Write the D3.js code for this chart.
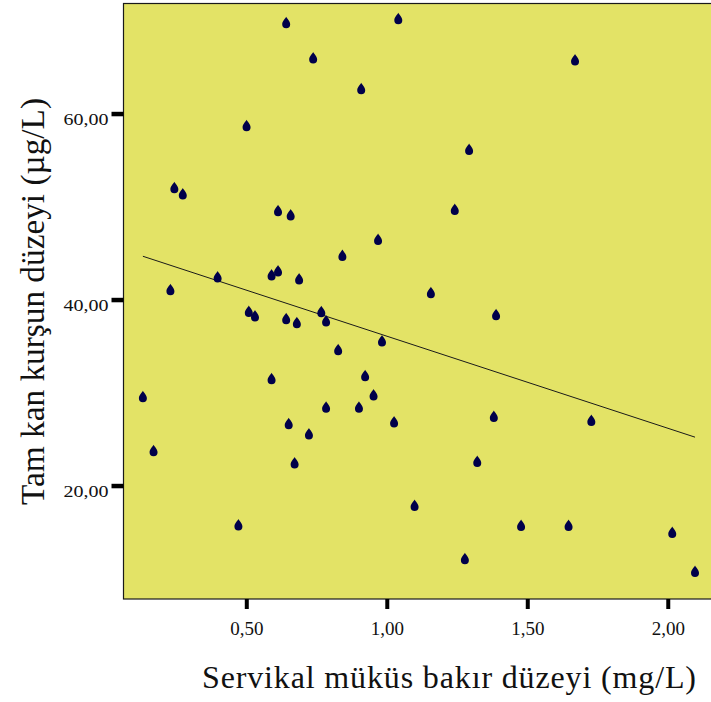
<!DOCTYPE html>
<html>
<head>
<meta charset="utf-8">
<script src="https://cdn.jsdelivr.net/npm/d3@7/dist/d3.min.js"></script>
<style>
  html, body { margin: 0; padding: 0; background: #ffffff; }
  svg { display: block; }
  text { font-family: "Liberation Serif", "Times New Roman", serif; fill: #111; }
</style>
</head>
<body>
<svg id="chart" width="711" height="702"></svg>
<script>
// Cervical mucus copper (mg/L) vs whole-blood lead (µg/L), one entry per subject
const copper = [
  0.642, 1.041, 0.738, 0.909, 0.501, 0.244, 0.274, 0.613, 0.658, 0.969,
  1.670, 1.293, 1.242, 0.842, 0.230, 0.398, 0.590, 0.613, 0.688, 0.509,
  0.531, 0.642, 0.680, 0.767, 0.784, 0.983, 0.827, 0.590, 0.923, 0.953,
  0.132, 0.784, 0.901, 0.651, 0.723, 1.026, 0.170, 0.672, 1.099, 0.472,
  1.381, 1.728, 1.322, 1.478, 1.647, 1.278, 2.016, 2.097, 1.157, 1.389
];
const lead = [
  69.60, 70.03, 65.81, 62.51, 58.53, 51.86, 51.18, 49.39, 48.92, 46.30,
  65.59, 55.98, 49.53, 44.58, 40.89, 42.26, 42.47, 42.90, 42.04, 38.56,
  38.06, 37.77, 37.34, 38.53, 37.53, 35.38, 34.44, 31.32, 31.65, 29.57,
  29.39, 28.26, 28.26, 26.48, 25.38, 26.67, 23.58, 22.26, 17.70, 15.59,
  27.27, 26.84, 22.43, 15.55, 15.55, 11.97, 14.80, 10.60, 40.57, 38.20
];

const xTicks = [0.5, 1.0, 1.5, 2.0];
const xTickLabels = ["0,50", "1,00", "1,50", "2,00"];
const yTicks = [20, 40, 60];
const yTickLabels = ["20,00", "40,00", "60,00"];

const xTitle = "Servikal müküs bakır düzeyi (mg/L)";
const yTitle = "Tam kan kurşun düzeyi (µg/L)";

const points = copper.map((c, i) => ({ x: c, y: lead[i] }));

const svg = d3.select("#chart");
const plot = { left: 123.5, top: 3.5, right: 713, bottom: 599 };

const x = d3.scaleLinear().domain([0.063, 2.161]).range([plot.left, plot.right]);
const y = d3.scaleLinear().domain([7.8, 71.8]).range([plot.bottom, 3.8]);

// Plot background
svg.append("rect")
  .attr("x", plot.left).attr("y", plot.top)
  .attr("width", plot.right - plot.left).attr("height", plot.bottom - plot.top)
  .attr("fill", "#E3E366")
  .attr("stroke", "#1a1a1a").attr("stroke-width", 1.2);

// X axis: heavy ticks below the frame
const xAxis = d3.axisBottom(x)
  .tickValues(xTicks)
  .tickFormat((d, i) => xTickLabels[i])
  .tickSize(10).tickPadding(0);
const gx = svg.append("g").attr("transform", `translate(0,${plot.bottom})`).call(xAxis);
gx.select(".domain").remove();
gx.selectAll(".tick line").attr("stroke", "#000").attr("stroke-width", 4);
gx.selectAll(".tick text")
  .attr("y", 36).attr("dy", null)
  .style("font-size", "19px").attr("fill", "#111")
  .style("font-family", "'Liberation Serif', serif");

// Y axis: heavy ticks left of the frame
const yAxis = d3.axisLeft(y)
  .tickValues(yTicks)
  .tickFormat((d, i) => yTickLabels[i])
  .tickSize(12).tickPadding(3);
const gy = svg.append("g").attr("transform", `translate(${plot.left},0)`).call(yAxis);
gy.select(".domain").remove();
gy.selectAll(".tick line").attr("stroke", "#000").attr("stroke-width", 4.5);
gy.selectAll(".tick text")
  .attr("dy", "11px")
  .attr("textLength", 45).attr("lengthAdjust", "spacingAndGlyphs")
  .style("font-size", "17px").attr("fill", "#111")
  .style("font-family", "'Liberation Serif', serif");

// Least-squares fit line across the observed copper range
const mx = d3.mean(points, d => d.x), my = d3.mean(points, d => d.y);
const sxy = d3.sum(points, d => (d.x - mx) * (d.y - my));
const sxx = d3.sum(points, d => (d.x - mx) ** 2);
const slope = sxy / sxx, intercept = my - slope * mx;
const [xmin, xmax] = d3.extent(points, d => d.x);
svg.append("line")
  .attr("x1", x(xmin)).attr("y1", y(intercept + slope * xmin))
  .attr("x2", x(xmax)).attr("y2", y(intercept + slope * xmax))
  .attr("stroke", "#1a1a1a").attr("stroke-width", 1);

// Teardrop markers, circle part centred on the value
const drop = "M0,-7.5 C0.8,-5.6 4,-3.2 4,0 A4,4 0 1,1 -4,0 C-4,-3.2 -0.8,-5.6 0,-7.5 Z";
svg.append("g").selectAll("path")
  .data(points)
  .join("path")
  .attr("d", drop)
  .attr("transform", d => `translate(${x(d.x)},${y(d.y)})`)
  .attr("fill", "#00004A");

// Axis titles
svg.append("text")
  .attr("x", 449).attr("y", 688)
  .attr("text-anchor", "middle")
  .attr("textLength", 494).attr("lengthAdjust", "spacing")
  .style("font-size", "32px")
  .text(xTitle);

svg.append("text")
  .attr("transform", "translate(43.5,301.5) rotate(-90)")
  .attr("text-anchor", "middle")
  .attr("textLength", 407).attr("lengthAdjust", "spacingAndGlyphs")
  .style("font-size", "34px")
  .text(yTitle);
</script>
</body>
</html>
